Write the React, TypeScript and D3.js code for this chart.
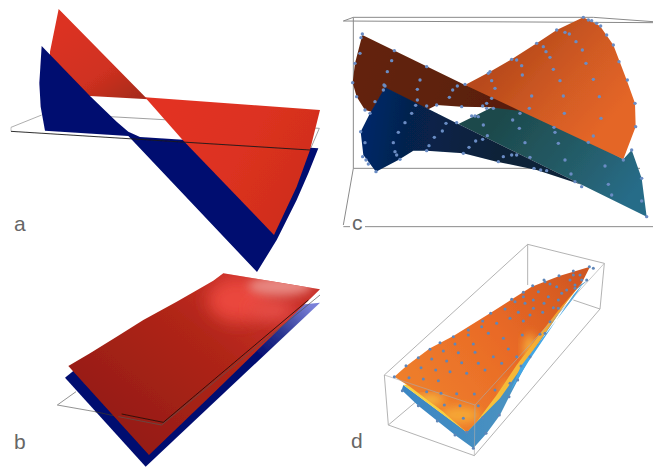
import React from 'react';
import * as d3 from 'd3';

type Pt = [number, number];

// panel a
const aRedBack: Pt[] = [[176, 27], [435, 290], [445, 298], [270, 288], [200, 280], [150, 200], [150, 155]];
const aBlue: Pt[] = [[125, 138], [270, 288], [350, 365], [385, 395], [420, 411], [955, 445], [925, 520], [890, 600], [830, 720], [771, 816], [385, 408], [135, 392], [122, 320], [118, 250]];
const aRedFront: Pt[] = [[435, 292], [960, 330], [930, 450], [890, 560], [822, 705], [548, 420]];
const aPlaneBackLeft: Pt[] = [[33, 382], [125, 345]];
const aPlaneBack: Pt[] = [[330, 350], [958, 385], [930, 450]];
const aPlaneFront: Pt[] = [[33, 394], [930, 450]];
const aPlaneEnd: Pt[] = [[33, 382], [33, 394]];

// panel b
const bBlue: Pt[] = [[195, 413], [437, 680], [960, 188], [890, 195], [230, 385]];
const bRed: Pt[] = [[205, 378], [270, 340], [350, 290], [430, 240], [530, 185], [640, 122], [670, 100], [960, 148], [850, 255], [640, 460], [447, 645]];
const bPlaneGray: Pt[] = [[228, 455], [172, 495], [285, 515]];
const bPlaneBlack1: Pt[] = [[355, 530], [485, 555], [960, 165]];
const bPlaneBlack2: Pt[] = [[365, 522], [490, 547], [925, 180]];
const bPlaneDash: Pt[] = [[285, 515], [355, 530]];

// panel c
const cBoxLines: Pt[][] = [
  [[40, 63], [969, 68]],
  [[40, 63], [70, 52], [790, 52], [969, 65]],
  [[70, 52], [70, 505], [40, 675]],
  [[70, 505], [930, 505]],
  [[40, 680], [60, 680]],
  [[105, 680], [969, 680]],
];
const cBrown: Pt[] = [[97, 105], [405, 255], [500, 285], [565, 332], [480, 322], [395, 320], [320, 315], [295, 328], [170, 275], [125, 335], [105, 330], [80, 290], [68, 248], [75, 190]];
const cOrange: Pt[] = [[405, 255], [480, 215], [545, 178], [620, 130], [680, 90], [760, 52], [810, 78], [850, 135], [890, 240], [915, 310], [917, 380], [880, 478]];
const cNavy: Pt[] = [[165, 262], [385, 372], [755, 554], [620, 510], [500, 485], [400, 460], [290, 452], [250, 452], [205, 480], [138, 515], [100, 465], [92, 395], [120, 340]];
const cTeal: Pt[] = [[385, 372], [440, 345], [480, 325], [530, 310], [700, 380], [880, 478], [905, 450], [935, 535], [950, 650]];
const cDots: Pt[] = [
  [97, 102], [93, 113], [90, 160], [75, 190], [68, 248], [80, 290], [105, 330], [135, 305], [193, 152], [290, 200], [405, 253],
  [185, 182], [172, 215], [162, 255], [270, 240], [262, 268], [262, 300], [257, 316], [290, 318], [382, 258], [368, 270], [358, 292], [395, 320], [320, 315],
  [480, 215], [475, 220], [485, 242], [495, 265], [485, 295], [470, 310], [458, 318], [545, 178], [560, 180], [575, 197], [577, 225], [605, 288], [598, 325], [570, 340],
  [620, 130], [640, 140], [648, 155], [660, 172], [670, 208], [690, 242], [700, 288], [703, 340], [672, 382], [675, 397], [680, 90], [705, 97], [718, 102], [738, 125], [757, 150], [768, 190], [790, 238], [808, 290], [813, 355], [790, 408], [775, 427],
  [760, 52], [775, 60], [785, 62], [800, 70], [812, 78], [830, 105], [850, 135], [867, 185], [892, 240], [915, 310], [917, 380], [880, 480], [905, 450],
  [165, 258], [160, 270], [120, 340], [92, 395], [105, 428], [98, 470], [108, 480], [115, 492], [138, 515], [190, 428], [205, 397], [225, 368], [245, 340], [195, 455], [200, 465], [210, 478],
  [290, 452], [297, 437], [313, 412], [337, 393], [348, 370], [380, 368], [400, 460], [417, 442], [437, 423], [458, 418], [472, 407], [460, 375], [445, 350], [425, 348], [435, 348], [470, 325], [490, 325],
  [520, 470], [545, 465], [560, 465], [505, 485], [600, 472], [612, 505], [632, 510], [650, 512], [705, 480], [723, 522], [755, 560], [825, 498], [835, 553], [845, 585], [935, 603], [935, 535], [950, 650], [585, 428], [568, 385], [548, 360], [685, 430], [735, 545],
];

// panel d
const dBoxBack: Pt[][] = [
  [[73, 420], [503, 28], [733, 85]],
  [[73, 420], [85, 570], [343, 662], [720, 222], [733, 85]],
  [[85, 570], [180, 490]],
  [[640, 195], [720, 222]],
  [[503, 28], [503, 150]],
];
const dBoxFront: Pt[][] = [
  [[73, 420], [345, 510], [343, 662]],
  [[345, 510], [733, 85]],
];
const dBlue: Pt[] = [[125, 465], [175, 512], [285, 600], [340, 640], [380, 595], [420, 540], [450, 480], [510, 365], [560, 290], [640, 170], [685, 135], [660, 150], [600, 215], [320, 590], [130, 450]];
const dYellow: Pt[] = [[130, 450], [320, 592], [420, 490], [490, 390], [610, 215], [660, 150], [300, 420]];
const dOrange: Pt[] = [[103, 425], [140, 392], [210, 340], [280, 303], [390, 235], [515, 155], [600, 122], [690, 95], [665, 145], [600, 220], [530, 310], [470, 390], [410, 480], [350, 560], [320, 592], [250, 530], [150, 455]];
const dCyan: Pt[] = [[483, 393], [640, 190], [670, 145], [640, 180], [505, 380], [450, 470]];
const dDots: Pt[] = [
  [103, 425], [147, 428], [190, 432], [235, 437], [290, 476], [343, 477], [243, 475], [200, 470], [253, 510], [300, 512], [310, 550], [355, 512], [405, 465], [450, 445], [483, 393],
  [138, 392], [175, 368], [210, 343], [240, 323], [280, 305], [325, 285], [368, 258], [392, 235], [455, 193], [490, 172], [518, 152], [552, 135], [597, 122], [640, 108], [688, 95], [700, 100],
  [183, 398], [227, 405], [270, 410], [320, 415], [375, 405], [425, 385], [470, 365], [215, 372], [260, 378], [305, 383], [355, 385], [400, 365], [445, 342], [487, 300], [250, 348], [295, 353], [340, 327], [285, 327], [385, 295], [430, 310], [345, 352],
  [325, 300], [410, 265], [365, 275], [450, 250], [490, 258], [435, 222], [475, 232], [510, 240], [465, 200], [495, 205], [520, 220], [548, 232], [490, 185], [520, 195], [552, 205], [580, 218], [555, 140], [570, 147], [590, 155], [605, 175], [535, 170], [565, 185], [595, 195], [640, 120], [660, 120], [665, 135], [630, 135], [645, 150], [620, 165],
  [127, 467], [175, 512], [232, 558], [285, 600], [320, 592], [340, 640], [378, 595], [418, 540], [447, 485], [473, 435], [510, 365], [555, 295], [595, 220], [645, 160], [680, 135], [368, 548], [540, 298], [570, 260],
];

const panelLetters = ['a', 'b', 'c', 'd'];

const W = 653;
const H = 468;

// panel scales: picture px = unit / 3 + crop offset
const panel = (ox: number, oy: number) => {
  const x = d3.scaleLinear().domain([0, 3]).range([ox, ox + 1]);
  const y = d3.scaleLinear().domain([0, 3]).range([oy, oy + 1]);
  return { x, y, path: d3.line<Pt>().x(d => x(d[0])).y(d => y(d[1])) };
};
const pa = panel(0, 0);
const pb = panel(0, 240);
const pc = panel(330, 0);
const pd = panel(360, 235);

export default function App() {
  return (
    <svg width={W} height={H} viewBox={`0 0 ${W} ${H}`}
      style={{ position: 'absolute', left: 0, top: 0, background: '#fff' }}>
      <defs>
        <filter id="soft" x="-5%" y="-5%" width="110%" height="110%"><feGaussianBlur stdDeviation="0.55" /></filter>
        <filter id="blur8" x="-50%" y="-50%" width="200%" height="200%"><feGaussianBlur stdDeviation="8" /></filter>
        <filter id="blur5" x="-50%" y="-50%" width="200%" height="200%"><feGaussianBlur stdDeviation="5" /></filter>

        <linearGradient id="aRedB" gradientUnits="userSpaceOnUse" x1="70" y1="20" x2="125" y2="105">
          <stop offset="0" stopColor="#dc3220" /><stop offset="0.6" stopColor="#d03020" /><stop offset="1" stopColor="#a82c1c" />
        </linearGradient>
        <linearGradient id="aRedF" gradientUnits="userSpaceOnUse" x1="170" y1="110" x2="300" y2="190">
          <stop offset="0" stopColor="#e23222" /><stop offset="0.55" stopColor="#dc3120" /><stop offset="1" stopColor="#d02e1c" />
        </linearGradient>

        <linearGradient id="bBlueG" gradientUnits="userSpaceOnUse" x1="255" y1="355" x2="305" y2="300">
          <stop offset="0" stopColor="#020b70" /><stop offset="0.45" stopColor="#2a3590" /><stop offset="1" stopColor="#7a80d8" />
        </linearGradient>
        <linearGradient id="bRedG" gradientUnits="userSpaceOnUse" x1="130" y1="440" x2="250" y2="290">
          <stop offset="0" stopColor="#951c12" /><stop offset="0.65" stopColor="#b02518" /><stop offset="1" stopColor="#c83028" />
        </linearGradient>

        <linearGradient id="cBrownG" gradientUnits="userSpaceOnUse" x1="360" y1="50" x2="520" y2="110">
          <stop offset="0" stopColor="#64240c" /><stop offset="1" stopColor="#581e0a" />
        </linearGradient>
        <linearGradient id="cOrangeG" gradientUnits="userSpaceOnUse" x1="520" y1="40" x2="610" y2="120">
          <stop offset="0" stopColor="#b84a1a" /><stop offset="0.5" stopColor="#d05a24" /><stop offset="1" stopColor="#e46626" />
        </linearGradient>
        <linearGradient id="cNavyG" gradientUnits="userSpaceOnUse" x1="365" y1="130" x2="500" y2="150">
          <stop offset="0" stopColor="#052868" /><stop offset="0.3" stopColor="#06234e" /><stop offset="1" stopColor="#0a2038" />
        </linearGradient>
        <linearGradient id="cTealG" gradientUnits="userSpaceOnUse" x1="500" y1="120" x2="620" y2="210">
          <stop offset="0" stopColor="#1d4a4c" /><stop offset="0.55" stopColor="#245c68" /><stop offset="1" stopColor="#286c88" />
        </linearGradient>

        <linearGradient id="dBlueG" gradientUnits="userSpaceOnUse" x1="400" y1="400" x2="510" y2="390">
          <stop offset="0" stopColor="#3a86c4" /><stop offset="1" stopColor="#4a92c0" />
        </linearGradient>
        <linearGradient id="dYellowG" gradientUnits="userSpaceOnUse" x1="420" y1="390" x2="570" y2="300">
          <stop offset="0" stopColor="#f8d040" /><stop offset="1" stopColor="#f4a030" />
        </linearGradient>
        <linearGradient id="dOrangeG" gradientUnits="userSpaceOnUse" x1="420" y1="400" x2="580" y2="270">
          <stop offset="0" stopColor="#ee7e2c" /><stop offset="0.5" stopColor="#e96a26" /><stop offset="1" stopColor="#cf5620" />
        </linearGradient>

        <clipPath id="bRedClip"><path d={pb.path(bRed) ?? ''} /></clipPath>
        <clipPath id="dOrangeClip"><path d={pd.path(dOrange) ?? ''} /></clipPath>
      </defs>

      <g filter="url(#soft)">
        {/* a */}
        <path d={pa.path(aRedBack) ?? ''} fill="url(#aRedB)" />
        <path d={pa.path(aPlaneBackLeft) ?? ''} fill="none" stroke="#999" strokeWidth={0.8} />
        <path d={pa.path(aPlaneBack) ?? ''} fill="none" stroke="#888" strokeWidth={0.8} />
        <path d={pa.path(aPlaneEnd) ?? ''} fill="none" stroke="#999" strokeWidth={0.6} />
        <path d={pa.path(aBlue) ?? ''} fill="#020b70" />
        <path d={pa.path(aRedFront) ?? ''} fill="url(#aRedF)" />
        <path d={pa.path(aPlaneFront) ?? ''} fill="none" stroke="#1a1a1a" strokeWidth={0.9} />

        {/* b */}
        <path d={pb.path(bPlaneGray) ?? ''} fill="none" stroke="#777" strokeWidth={0.8} />
        <path d={pb.path(bBlue) ?? ''} fill="url(#bBlueG)" />
        <path d={pb.path(bPlaneDash) ?? ''} fill="none" stroke="#333" strokeWidth={0.8} />
        <path d={pb.path(bRed) ?? ''} fill="url(#bRedG)" />
        <g clipPath="url(#bRedClip)">
          <ellipse cx={238} cy={300} rx={30} ry={22} fill="#ea463c" filter="url(#blur8)" />
          <ellipse cx={272} cy={310} rx={22} ry={10} fill="#e85048" filter="url(#blur8)" />
          <ellipse cx={280} cy={286} rx={32} ry={10} fill="#e88680" filter="url(#blur5)" />
        </g>
        <path d={pb.path(bPlaneBlack1) ?? ''} fill="none" stroke="#555" strokeWidth={0.7} />
        <path d={pb.path(bPlaneBlack2) ?? ''} fill="none" stroke="#1a0a08" strokeWidth={0.8} />

        {/* c */}
        {cBoxLines.map((l, i) => (
          <path key={i} d={pc.path(l) ?? ''} fill="none" stroke="#8a8a8a" strokeWidth={1} />
        ))}
        <path d={pc.path(cTeal) ?? ''} fill="url(#cTealG)" />
        <path d={pc.path(cBrown) ?? ''} fill="url(#cBrownG)" />
        <path d={pc.path(cOrange) ?? ''} fill="url(#cOrangeG)" />
        <path d={pc.path(cNavy) ?? ''} fill="url(#cNavyG)" />
        {cDots.map((d, i) => (
          <circle key={i} cx={pc.x(d[0])} cy={pc.y(d[1])} r={1.7} fill="#6a8cc4" />
        ))}

        {/* d */}
        {dBoxBack.map((l, i) => (
          <path key={i} d={pd.path(l) ?? ''} fill="none" stroke="#aaa" strokeWidth={0.9} />
        ))}
        <path d={pd.path(dBlue) ?? ''} fill="url(#dBlueG)" />
        <path d={pd.path(dYellow) ?? ''} fill="url(#dYellowG)" />
        <path d={pd.path(dCyan) ?? ''} fill="#42a6e4" />
        <path d={pd.path(dOrange) ?? ''} fill="url(#dOrangeG)" />
        <g clipPath="url(#dOrangeClip)">
          <ellipse cx={pd.x(510)} cy={pd.y(340)} rx={6} ry={14} fill="#f7b03a" filter="url(#blur5)" />
          <ellipse cx={pd.x(210)} cy={pd.y(495)} rx={14} ry={4} fill="#f9cc44" filter="url(#blur5)" />
          <ellipse cx={pd.x(300)} cy={pd.y(540)} rx={20} ry={8} fill="#f6a836" filter="url(#blur5)" />
          <ellipse cx={pd.x(445)} cy={pd.y(470)} rx={6} ry={10} fill="#f6a836" filter="url(#blur5)" />
        </g>
        {dBoxFront.map((l, i) => (
          <path key={i} d={pd.path(l) ?? ''} fill="none" stroke="#aaa" strokeOpacity={0.8} strokeWidth={0.8} />
        ))}
        {dDots.map((d, i) => (
          <circle key={i} cx={pd.x(d[0])} cy={pd.y(d[1])} r={1.5} fill="#5f86b8" />
        ))}
      </g>

      <g fontFamily="'Liberation Sans', Arial, sans-serif" fontSize={21} fill="#666">
        <text x={14} y={231}>{panelLetters[0]}</text>
        <text x={14} y={449}>{panelLetters[1]}</text>
        <text x={352} y={230}>{panelLetters[2]}</text>
        <text x={351} y={448}>{panelLetters[3]}</text>
      </g>
    </svg>
  );
}
